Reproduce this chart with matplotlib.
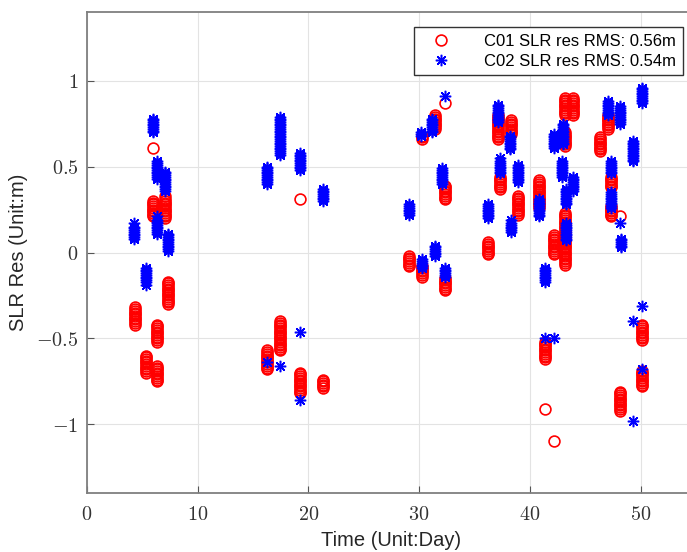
import matplotlib
matplotlib.use("Agg")
import matplotlib.pyplot as plt
from matplotlib.ticker import FuncFormatter

plt.rcParams['font.family'] = ['Liberation Sans', 'DejaVu Sans']
plt.rcParams['mathtext.fontset'] = 'cm'

# ---- data ----
c01_days = [4.35, 5.35, 6.0, 6.0, 6.3, 6.3, 7.06, 7.3,
            16.3, 17.4, 19.25, 19.25, 21.35,
            29.1, 30.3, 30.3, 31.4, 32.3, 32.3, 32.3,
            36.2, 37.1, 37.3, 38.3, 38.9, 40.8, 41.4, 41.4, 42.2, 42.2,
            43.2, 43.2, 43.2, 43.9, 46.3, 47.1, 47.3, 47.3, 48.1, 48.1,
            50.1, 50.1]
c01_res = [
    [-0.32, -0.33, -0.34, -0.35, -0.36, -0.37, -0.38, -0.39, -0.40, -0.41, -0.42],
    [-0.60, -0.61, -0.62, -0.63, -0.64, -0.65, -0.66, -0.67, -0.68, -0.69, -0.70],
    [0.61],
    [0.21, 0.22, 0.23, 0.24, 0.25, 0.26, 0.27, 0.28, 0.29, 0.30],
    [-0.42, -0.43, -0.44, -0.45, -0.46, -0.47, -0.48, -0.49, -0.50, -0.51, -0.52],
    [-0.66, -0.67, -0.68, -0.69, -0.70, -0.71, -0.72, -0.73, -0.74, -0.75],
    [0.20, 0.21, 0.22, 0.23, 0.24, 0.25, 0.26, 0.27, 0.28, 0.29, 0.30, 0.31, 0.33],
    [-0.17, -0.18, -0.19, -0.20, -0.21, -0.22, -0.23, -0.24, -0.25, -0.26, -0.27, -0.28, -0.29, -0.30],
    [-0.57, -0.58, -0.59, -0.60, -0.61, -0.62, -0.63, -0.64, -0.65, -0.66, -0.67, -0.68],
    [-0.40, -0.41, -0.42, -0.43, -0.44, -0.45, -0.46, -0.47, -0.48, -0.49, -0.50, -0.51, -0.52,
     -0.53, -0.54, -0.55, -0.56, -0.57],
    [0.31],
    [-0.70, -0.71, -0.72, -0.73, -0.74, -0.75, -0.76, -0.77, -0.78, -0.79, -0.80, -0.81, -0.82],
    [-0.74, -0.75, -0.76, -0.77, -0.78, -0.79],
    [-0.02, -0.03, -0.04, -0.05, -0.06, -0.07, -0.08],
    [0.66, 0.67, 0.68],
    [-0.08, -0.09, -0.10, -0.11, -0.12, -0.13, -0.14],
    [0.72, 0.73, 0.74, 0.75, 0.76, 0.77, 0.78, 0.79, 0.80],
    [0.87],
    [0.31, 0.32, 0.33, 0.34, 0.35, 0.36, 0.37, 0.38, 0.39],
    [-0.15, -0.16, -0.17, -0.18, -0.19, -0.20, -0.21, -0.22],
    [-0.01, 0.00, 0.01, 0.02, 0.03, 0.04, 0.05, 0.06],
    [0.66, 0.67, 0.68, 0.69, 0.70, 0.71, 0.72, 0.73, 0.74, 0.75, 0.76, 0.77, 0.78, 0.79, 0.80],
    [0.37, 0.38, 0.39, 0.40, 0.41, 0.42, 0.43, 0.44],
    [0.69, 0.70, 0.71, 0.72, 0.73, 0.74, 0.75, 0.76, 0.77],
    [0.22, 0.23, 0.24, 0.25, 0.26, 0.27, 0.28, 0.29, 0.30, 0.31, 0.32, 0.33],
    [0.26, 0.27, 0.28, 0.29, 0.30, 0.31, 0.32, 0.33, 0.34, 0.35, 0.36, 0.37, 0.38, 0.39, 0.40, 0.41, 0.42],
    [-0.52, -0.53, -0.54, -0.55, -0.56, -0.57, -0.58, -0.59, -0.60, -0.61, -0.62],
    [-0.91],
    [-0.01, 0.00, 0.01, 0.02, 0.03, 0.04, 0.05, 0.06, 0.07, 0.08, 0.09, 0.10],
    [-1.10],
    [0.80, 0.81, 0.82, 0.83, 0.84, 0.85, 0.86, 0.87, 0.88, 0.89, 0.90],
    [0.62, 0.63, 0.64, 0.65, 0.66, 0.67, 0.68, 0.69, 0.70],
    [-0.07, -0.06, -0.05, -0.04, -0.03, -0.02, -0.01, 0.00, 0.01, 0.02, 0.03, 0.04, 0.05, 0.06,
     0.07, 0.08, 0.09, 0.10, 0.11, 0.12, 0.13, 0.14, 0.15, 0.16, 0.17, 0.18, 0.19, 0.20, 0.21, 0.22, 0.23],
    [0.80, 0.81, 0.82, 0.83, 0.84, 0.85, 0.86, 0.87, 0.88, 0.89, 0.90],
    [0.59, 0.60, 0.61, 0.62, 0.63, 0.64, 0.65, 0.66, 0.67],
    [0.72, 0.73, 0.74, 0.75, 0.76, 0.77, 0.78, 0.79, 0.80],
    [0.38, 0.39, 0.40, 0.41, 0.42, 0.43, 0.44],
    [0.21, 0.22, 0.23, 0.24, 0.25, 0.26, 0.27],
    [0.21],
    [-0.81, -0.82, -0.83, -0.84, -0.85, -0.86, -0.87, -0.88, -0.89, -0.90, -0.91, -0.92],
    [-0.42, -0.43, -0.44, -0.45, -0.46, -0.47, -0.48, -0.49, -0.50, -0.51],
    [-0.69, -0.70, -0.71, -0.72, -0.73, -0.74, -0.75, -0.76, -0.77, -0.78],
]

c02_days = [4.27, 5.35, 5.97, 6.3, 6.3, 7.06, 7.3,
            16.3, 16.3, 17.4, 17.4, 19.25, 19.25, 19.25, 21.35,
            29.1, 30.2, 30.3, 31.2, 31.4, 32.3, 32.1, 32.3,
            36.2, 37.1, 37.3, 38.2, 38.3, 38.9, 40.8, 41.4, 41.4, 42.2, 42.2,
            43.0, 42.9, 43.3, 43.3, 43.9, 47.1, 47.3, 47.3, 48.1, 48.1, 48.2,
            49.3, 49.3, 49.3, 50.1, 50.1, 50.1]
c02_res = [
    [0.08, 0.09, 0.10, 0.11, 0.12, 0.13, 0.14, 0.15, 0.17],
    [-0.09, -0.10, -0.11, -0.12, -0.13, -0.14, -0.15, -0.16, -0.17, -0.19],
    [0.70, 0.71, 0.72, 0.73, 0.74, 0.75, 0.76, 0.77, 0.78],
    [0.43, 0.44, 0.45, 0.46, 0.47, 0.48, 0.49, 0.50, 0.51, 0.52, 0.53],
    [0.11, 0.12, 0.13, 0.14, 0.15, 0.16, 0.17, 0.18, 0.19, 0.21],
    [0.36, 0.37, 0.38, 0.39, 0.40, 0.41, 0.42, 0.43, 0.44, 0.45, 0.46, 0.47],
    [0.01, 0.02, 0.03, 0.04, 0.05, 0.06, 0.07, 0.08, 0.09, 0.10, 0.11],
    [0.40, 0.41, 0.42, 0.43, 0.44, 0.45, 0.46, 0.47, 0.48, 0.49, 0.50],
    [-0.64],
    [0.57, 0.58, 0.59, 0.60, 0.61, 0.62, 0.63, 0.64, 0.65, 0.66, 0.67, 0.68, 0.69, 0.70,
     0.71, 0.72, 0.73, 0.74, 0.75, 0.76, 0.77, 0.78, 0.79],
    [-0.66],
    [0.48, 0.49, 0.50, 0.51, 0.52, 0.53, 0.54, 0.55, 0.56, 0.57, 0.58],
    [-0.46],
    [-0.86],
    [0.30, 0.31, 0.32, 0.33, 0.34, 0.35, 0.36, 0.37],
    [0.22, 0.23, 0.24, 0.25, 0.26, 0.27, 0.28],
    [0.68, 0.69, 0.70],
    [-0.04, -0.05, -0.06, -0.07, -0.08, -0.09],
    [0.70, 0.71, 0.72, 0.73, 0.74, 0.75, 0.76, 0.77, 0.78],
    [-0.02, -0.01, 0.00, 0.01, 0.02, 0.03, 0.04],
    [0.91],
    [0.40, 0.41, 0.42, 0.43, 0.44, 0.45, 0.46, 0.47, 0.48, 0.49],
    [-0.09, -0.10, -0.11, -0.12, -0.13, -0.14],
    [0.20, 0.21, 0.22, 0.23, 0.24, 0.25, 0.26, 0.27, 0.28],
    [0.76, 0.77, 0.78, 0.79, 0.80, 0.81, 0.82, 0.83, 0.84, 0.85, 0.86],
    [0.46, 0.47, 0.48, 0.49, 0.50, 0.51, 0.52, 0.53, 0.55],
    [0.60, 0.61, 0.62, 0.63, 0.64, 0.65, 0.66, 0.67, 0.68],
    [0.12, 0.13, 0.14, 0.15, 0.16, 0.17, 0.19],
    [0.41, 0.42, 0.43, 0.44, 0.45, 0.46, 0.47, 0.48, 0.49, 0.50, 0.51],
    [0.21, 0.22, 0.23, 0.24, 0.25, 0.26, 0.27, 0.28, 0.29, 0.30, 0.31],
    [-0.09, -0.10, -0.11, -0.12, -0.13, -0.14, -0.15, -0.16, -0.17],
    [-0.50],
    [0.61, 0.62, 0.63, 0.64, 0.65, 0.66, 0.67, 0.68, 0.69],
    [-0.50],
    [0.63, 0.64, 0.65, 0.66, 0.67, 0.68, 0.69, 0.70, 0.71, 0.72, 0.73, 0.74, 0.75],
    [0.44, 0.45, 0.46, 0.47, 0.48, 0.49, 0.50, 0.51, 0.52, 0.53],
    [0.28, 0.29, 0.30, 0.31, 0.32, 0.33, 0.34, 0.35, 0.36, 0.37],
    [0.07, 0.08, 0.09, 0.10, 0.11, 0.12, 0.13, 0.14, 0.15, 0.16, 0.17],
    [0.36, 0.37, 0.38, 0.39, 0.40, 0.41, 0.42, 0.43, 0.44],
    [0.80, 0.81, 0.82, 0.83, 0.84, 0.85, 0.86, 0.87, 0.88],
    [0.46, 0.47, 0.48, 0.49, 0.50, 0.51, 0.52, 0.53],
    [0.26, 0.27, 0.28, 0.29, 0.30, 0.31, 0.32, 0.33, 0.34, 0.35],
    [0.75, 0.76, 0.77, 0.78, 0.79, 0.80, 0.81, 0.82, 0.83, 0.84, 0.85],
    [0.17],
    [0.03, 0.04, 0.05, 0.06, 0.07, 0.08],
    [0.53, 0.54, 0.55, 0.56, 0.57, 0.58, 0.59, 0.60, 0.61, 0.62, 0.63, 0.64, 0.65],
    [-0.40],
    [-0.98],
    [0.87, 0.88, 0.89, 0.90, 0.91, 0.92, 0.93, 0.94, 0.95, 0.96],
    [-0.31],
    [-0.68],
]

legend_labels = ['C01 SLR res RMS: 0.56m', 'C02 SLR res RMS: 0.54m']
x_label = 'Time (Unit:Day)'
y_label = 'SLR Res (Unit:m)'
x_ticks = [0, 10, 20, 30, 40, 50]
y_ticks = [-1, -0.5, 0, 0.5, 1]

# ---- figure ----
W, H = 687, 552
fig = plt.figure(figsize=(W / 100, H / 100), dpi=100)
ax = fig.add_axes([86.8 / W, (H - 493) / H, (696 - 86.8) / W, (493 - 12) / H])

c01_x = [d for d, ys in zip(c01_days, c01_res) for _ in ys]
c01_y = [y for ys in c01_res for y in ys]
c02_x = [d for d, ys in zip(c02_days, c02_res) for _ in ys]
c02_y = [y for ys in c02_res for y in ys]

ax.plot(c01_x, c01_y, linestyle='none', marker='o', ms=7.8, mfc='none',
        mec='#ff0000', mew=1.2, label=legend_labels[0], zorder=3)
ax.plot(c02_x, c02_y, linestyle='none', marker=(8, 2, 0), ms=8.2, mfc='none',
        mec='#0000ff', mew=1.1, label=legend_labels[1], zorder=4)

ax.set_xlim(0, 55)
ax.set_ylim(-1.4, 1.4)
ax.set_xticks(x_ticks)
ax.set_yticks(y_ticks)
fmt = FuncFormatter(lambda v, p: r'$%g$' % v)
ax.xaxis.set_major_formatter(fmt)
ax.yaxis.set_major_formatter(fmt)
ax.tick_params(axis='both', direction='in', length=5, width=0.8, color='#555555',
               labelsize=14.5, labelcolor='#333333')
ax.tick_params(axis='x', pad=9)
ax.tick_params(axis='y', pad=6)
ax.grid(True, color='#e3e3e3', linewidth=0.8, zorder=0)
ax.set_axisbelow(True)
for s in ax.spines.values():
    s.set_color('#7f7f7f')
    s.set_linewidth(1.3)

ax.set_xlabel(x_label, fontsize=14.5, color='#262626', labelpad=5)
ax.set_ylabel(y_label, fontsize=14.5, color='#262626', labelpad=6)

leg = ax.legend(loc='upper right', bbox_to_anchor=(683 / W, (H - 27) / H),
                bbox_transform=fig.transFigure, fontsize=12, fancybox=False,
                framealpha=1, edgecolor='#333333', borderpad=0.4,
                handletextpad=1.4, handlelength=2.4, labelspacing=0.3,
                borderaxespad=0)
leg.get_frame().set_linewidth(1.0)

fig.savefig('out.png', dpi=100)
